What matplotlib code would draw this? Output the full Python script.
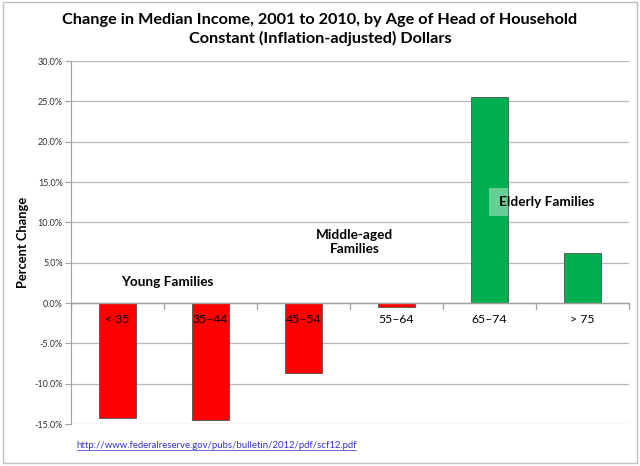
import matplotlib
matplotlib.use('Agg')
import matplotlib.pyplot as plt
from matplotlib.patches import Rectangle
import numpy as np

plt.rcParams['font.family'] = ['Lato', 'DejaVu Sans']

############################# data ##################################
age_groups = ['< 35', '35\u201344', '45\u201354', '55\u201364', '65\u201374', '> 75']
pct_change = [-14.2, -14.5, -8.7, -0.5, 25.6, 6.2]
bar_colors = ['#ff0000', '#ff0000', '#ff0000', '#ff0000', '#00b050', '#00b050']
y_ticks = [-15, -10, -5, 0, 5, 10, 15, 20, 25, 30]

title = 'Change in Median Income, 2001 to 2010, by Age of Head of Household\nConstant (Inflation-adjusted) Dollars'
source = 'http://www.federalreserve.gov/pubs/bulletin/2012/pdf/scf12.pdf'

############################# figure ##################################
fig = plt.figure(figsize=(6.4, 4.66), dpi=100)
ax = fig.add_axes([0.111, 0.090, 0.872, 0.779])

x = np.arange(len(age_groups))
ax.bar(x, pct_change, width=0.4, color=bar_colors, edgecolor='#505050', linewidth=0.6, zorder=3)

ax.set_xlim(-0.5, len(age_groups) - 0.5)
ax.set_ylim(-15, 30)
ax.set_yticks(y_ticks)
ax.set_yticklabels(['%.1f%%' % v for v in y_ticks], fontsize=6.5, color='#303030')
ax.yaxis.grid(True, color='#b8b8b8', linewidth=0.9, zorder=0)
ax.tick_params(axis='y', length=4, color='#a0a0a0', pad=2)

# category axis sits on the zero line, ticks between categories
ax.set_xticks([])
ax.axhline(0, color='#a0a0a0', linewidth=1.0, zorder=4)
for b in np.arange(-0.5, len(age_groups), 1.0):
    ax.plot([b, b], [0, -0.7], color='#a0a0a0', linewidth=0.9, zorder=4, clip_on=False)
for xi, lab in zip(x, age_groups):
    ax.text(xi, -2.0, lab, ha='center', va='center', fontsize=8.8, color='black', zorder=5)

for s in ['top', 'right', 'bottom']:
    ax.spines[s].set_visible(False)
ax.spines['left'].set_color('#a0a0a0')

ax.set_ylabel('Percent Change', fontsize=9.3, fontweight='bold', labelpad=4)

############################# annotations ##################################
ax.text(0.53, 2.6, 'Young Families', ha='center', va='center', fontsize=9.8, fontweight='bold')
ax.text(2.55, 7.6, 'Middle-aged\nFamilies', ha='center', va='center', fontsize=9.8,
        fontweight='bold', linespacing=1.2)
ax.add_patch(Rectangle((3.995, 10.8), 0.2, 3.45, facecolor='white', alpha=0.4,
                       edgecolor='none', zorder=4))
ax.text(4.1, 12.5, 'Elderly Families', ha='left', va='center', fontsize=9.8,
        fontweight='bold', zorder=5)

fig.text(0.5, 0.937, title, ha='center', va='center', fontsize=11.7, fontweight='bold',
         linespacing=1.35)
fig.text(0.12, 0.045, source, ha='left', va='center', fontsize=6.9, color='#3333cc')
fig.add_artist(plt.Line2D([0.12, 0.556], [0.035, 0.035], color='#3333cc', linewidth=0.5))

# outer chart border
fig.add_artist(Rectangle((0.005, 0.006), 0.99, 0.99, fill=False, edgecolor='#c0c0c0',
                         linewidth=1.0, transform=fig.transFigure))

fig.savefig('out.png', dpi=100)
